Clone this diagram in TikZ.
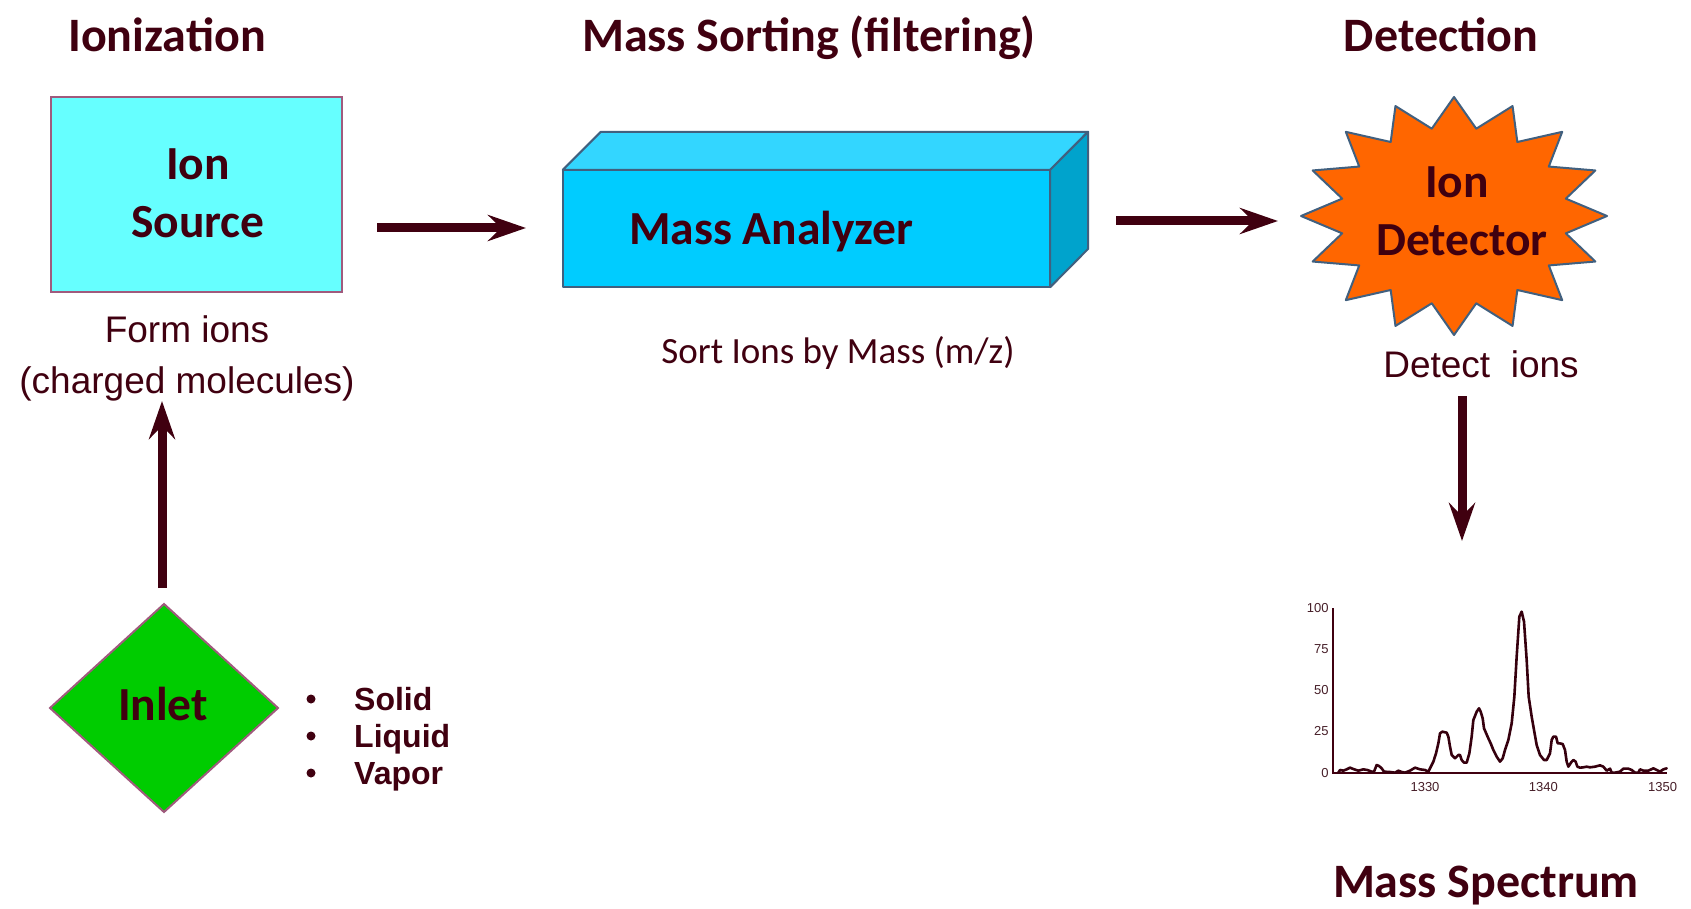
\documentclass[tikz,border=0pt]{standalone}
\usepackage{fontspec}
\setmainfont{Carlito}
\newfontfamily\arialf{Liberation Sans}
\usetikzlibrary{arrows.meta}
\definecolor{maroon}{RGB}{64,0,16}
\definecolor{srcfill}{RGB}{102,255,255}
\definecolor{mauve}{RGB}{160,90,125}
\definecolor{inletfill}{RGB}{0,204,0}
\definecolor{mafront}{RGB}{0,204,255}
\definecolor{matop}{RGB}{51,214,255}
\definecolor{maside}{RGB}{0,163,204}
\definecolor{slate}{RGB}{65,96,127}
\definecolor{detfill}{RGB}{255,102,0}
\definecolor{axlbl}{RGB}{70,30,40}
\tikzset{
  title/.style={text=maroon, font=\fontsize{48}{52}\selectfont\bfseries, inner sep=0pt, anchor=base},
  boxlbl/.style={text=maroon, font=\fontsize{47.5}{52}\selectfont\bfseries, inner sep=0pt, anchor=base},
  arialtxt/.style={text=maroon, font=\arialf\fontsize{37}{40}\selectfont, inner sep=0pt, anchor=base},
  bullettxt/.style={text=maroon, font=\arialf\fontsize{32}{36}\selectfont\bfseries, inner sep=0pt, anchor=base west},
  bigarrow/.style={draw=maroon, line width=9pt, -{Stealth[length=38pt,width=26pt,inset=13pt]}},
  slateline/.style={draw=slate, line width=2pt, line join=round},
  ticklbl/.style={text=axlbl, font=\arialf\fontsize{13}{15}\selectfont, inner sep=0pt},
}
\begin{document}
\begin{tikzpicture}[x=1pt,y=-1pt]
\useasboundingbox[fill=white] (0,0) rectangle (1691,909);

% Titles
\node[title] (t1) at (167,52) {Ionization};
\node[title] (t2) at (809,52) {Mass Sorting (filtering)};
\node[title] (t3) at (1441,52) {Detection};

% Ion source
\node[draw=mauve, fill=srcfill, line width=2pt, minimum width=291pt, minimum height=195pt, inner sep=0pt] (src) at (196.5,194.5) {};
\node[boxlbl] (srcA) at (198,180) {Ion};
\node[boxlbl] (srcB) at (198,238) {Source};
\node[arialtxt] (form1) at (187,342) {Form ions};
\node[arialtxt] (form2) at (187,393) {(charged molecules)};

% Mass analyzer
\node[fill=mafront, minimum width=487pt, minimum height=117pt, inner sep=0pt] (ma) at (806.5,228.5) {};
\draw[slateline, fill=matop] (ma.north west) -- ++(38,-38) -- ++(487,0) -- (ma.north east) -- cycle;
\draw[slateline, fill=maside] (ma.north east) -- ++(38,-38) -- ++(0,117) -- (ma.south east) -- cycle;
\draw[slateline] (ma.north west) rectangle (ma.south east);
\node[boxlbl, anchor=base west] (malbl) at (629,245) {Mass Analyzer};
\node[text=maroon, font=\fontsize{37}{40}\selectfont, inner sep=0pt, anchor=base] (sort) at (838,363) {Sort Ions by Mass (m/z)};

% Ion detector star
\draw[slateline, fill=detfill] plot[samples at={0,...,31}, variable=\k]
  ({1454+ifthenelse(mod(\k,2)==0,153,114)*cos(90+\k*11.25)},
   {216+ifthenelse(mod(\k,2)==0,119,89)*sin(90+\k*11.25)}) -- cycle;
\node[boxlbl] (detA) at (1457,198) {Ion};
\node[boxlbl] (detB) at (1462,255) {Detector};
\node[arialtxt] (detect) at (1481,377) {Detect~ ions};

% Inlet
\draw[draw=mauve, fill=inletfill, line width=2pt] (164,604) -- (278,708) -- (164,812) -- (50,708) -- cycle;
\node[boxlbl] (inlet) at (163,720) {Inlet};
\node[bullettxt] (b1) at (354,710) {Solid};
\node[bullettxt] (b2) at (354,747) {Liquid};
\node[bullettxt] (b3) at (354,784) {Vapor};
\foreach \yy in {699,736,773}
  \fill[maroon] (311,\yy) circle (4.5pt);

% Arrows
\coordinate (a1s) at (377,228);
\coordinate (a1e) at (526,228);
\coordinate (a2s) at (1116,221);
\coordinate (a2e) at (1278,221);
\coordinate (a3s) at (1462,396);
\coordinate (a3e) at (1462,541);
\coordinate (a4s) at (162,588);
\coordinate (a4e) at (162,401);
\draw[bigarrow] (a1s) -- (a1e);
\draw[bigarrow] (a2s) -- (a2e);
\draw[bigarrow] (a3s) -- (a3e);
\draw[bigarrow] (a4s) -- (a4e);

% Mass spectrum
\begin{scope}[shift={(1280,580)}, scale=1/3]
\draw[maroon, line width=2pt] (158,85) -- (158,578) -- (1160,578);
\node[ticklbl, anchor=east] (y100) at (146,85) {100};
\node[ticklbl, anchor=east] (y75) at (146,207) {75};
\node[ticklbl, anchor=east] (y50) at (146,330) {50};
\node[ticklbl, anchor=east] (y25) at (146,452) {25};
\node[ticklbl, anchor=east] (y0) at (146,578) {0};
\node[ticklbl] (x1330) at (435,622) {1330};
\node[ticklbl] (x1340) at (790,622) {1340};
\node[ticklbl] (x1350) at (1148,622) {1350};
\draw[maroon!85!black, line width=2.6pt, line join=round, line cap=round]
 (175,578) -- (180,570) -- (190,572) -- (200,568) -- (210,563) -- (220,567) -- (235,572) -- (250,568) -- (262,570) -- (275,575) -- (282,575) -- (290,555) -- (297,558) -- (305,565) -- (312,575) -- (330,576) -- (345,578) -- (355,572) -- (365,576) -- (375,578) -- (390,572) -- (405,563) -- (420,568) -- (435,570) -- (445,575) -- (450,565) -- (460,545) -- (468,520) -- (475,490) -- (480,460) -- (487,455) -- (500,458) -- (505,470) -- (510,500) -- (515,525) -- (525,535) -- (535,525) -- (540,525) -- (545,540) -- (552,548) -- (560,548) -- (568,520) -- (575,470) -- (580,420) -- (590,395) -- (597,385) -- (602,395) -- (608,415) -- (612,445) -- (625,475) -- (632,490) -- (640,510) -- (650,530) -- (660,545) -- (668,535) -- (675,510) -- (685,480) -- (695,430) -- (703,350) -- (710,230) -- (718,110) -- (725,95) -- (732,125) -- (740,240) -- (746,350) -- (755,410) -- (762,450) -- (770,495) -- (780,525) -- (792,540) -- (800,540) -- (810,520) -- (815,480) -- (820,470) -- (828,470) -- (833,490) -- (838,490) -- (848,492) -- (855,510) -- (860,545) -- (865,560) -- (875,545) -- (880,540) -- (887,545) -- (892,560) -- (900,563) -- (910,562) -- (920,560) -- (930,562) -- (945,560) -- (960,556) -- (970,560) -- (980,572) -- (990,566) -- (995,578) -- (1005,578) -- (1020,575) -- (1030,566) -- (1045,566) -- (1055,570) -- (1065,578) -- (1075,578) -- (1080,568) -- (1090,572) -- (1105,572) -- (1120,565) -- (1130,570) -- (1140,575) -- (1150,568) -- (1160,565);
\end{scope}
\node[title] (msp) at (1486,897) {Mass Spectrum};
\end{tikzpicture}
\end{document}
